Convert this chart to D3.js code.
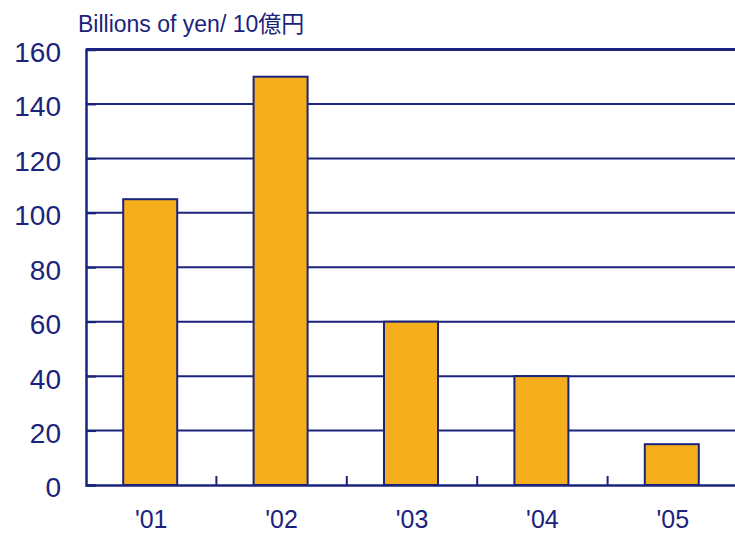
<!DOCTYPE html>
<html>
<head>
<meta charset="utf-8">
<script src="https://cdn.jsdelivr.net/npm/d3@7"></script>
<style>
  html, body { margin: 0; padding: 0; background: #fff; overflow: hidden; }
  svg { display: block; font-family: "Liberation Sans", Arial, "Noto Sans CJK JP", sans-serif; }
</style>
</head>
<body>
<svg id="chart" width="735" height="535"></svg>
<script>
// Fiscal years and amounts (billions of yen)
const years = ["'01", "'02", "'03", "'04", "'05"];
const amounts = [105, 150, 60, 40, 15];
const yTicks = [0, 20, 40, 60, 80, 100, 120, 140, 160];
const unitLabel = "Billions of yen/ 10億円";

const navy = "#1b237c";
const gold = "#f7ae1c";

const svg = d3.select("#chart");
const margin = { left: 86, top: 49.5, bottom: 50 };
const plotW = 652;
const plotH = 535 - margin.top - margin.bottom;

const x = d3.scaleBand().domain(years).range([margin.left, margin.left + plotW]).paddingInner(0).paddingOuter(0);
const y = d3.scaleLinear().domain([0, 160]).range([margin.top + plotH, margin.top]);

// horizontal grid lines (the top one doubles as the plot's upper border)
svg.append("g").selectAll("line").data(yTicks.slice(1)).join("line")
  .attr("x1", margin.left).attr("x2", margin.left + plotW)
  .attr("y1", d => y(d)).attr("y2", d => y(d))
  .attr("stroke", navy).attr("stroke-width", d => d === 160 ? 3 : 2);

// bars
const barW = 54;
svg.append("g").selectAll("rect").data(amounts).join("rect")
  .attr("x", (d, i) => x(years[i]) + x.bandwidth() / 2 - barW / 2 - 1)
  .attr("y", d => y(d))
  .attr("width", barW)
  .attr("height", d => y(0) - y(d))
  .attr("fill", gold).attr("stroke", navy).attr("stroke-width", 2);

// y axis
const yAxis = svg.append("g").attr("transform", `translate(${margin.left},0)`)
  .call(d3.axisLeft(y).tickValues(yTicks).tickSize(-10).tickPadding(25).tickFormat(d3.format("d")));
yAxis.select(".domain").attr("stroke", navy).attr("stroke-width", 2.5);
yAxis.selectAll(".tick line").attr("stroke", navy).attr("stroke-width", 2);
yAxis.selectAll(".tick text").attr("fill", navy).attr("font-size", 28).attr("font-family", null)
  .attr("y", 3);

// x axis
const xAxis = svg.append("g").attr("transform", `translate(0,${y(0)})`)
  .call(d3.axisBottom(x).tickSize(0).tickPadding(0));
xAxis.select(".domain").attr("stroke", navy).attr("stroke-width", 2.5);
xAxis.selectAll(".tick text").attr("fill", navy).attr("font-size", 25).attr("font-family", null)
  .attr("y", 43).attr("dy", null);

// category separator ticks on the baseline
svg.append("g").selectAll("line").data(years.slice(1)).join("line")
  .attr("x1", d => x(d)).attr("x2", d => x(d))
  .attr("y1", y(0)).attr("y2", y(0) - 9)
  .attr("stroke", navy).attr("stroke-width", 2);

// unit label
svg.append("text").attr("x", 78).attr("y", 32)
  .attr("fill", navy).attr("font-size", 23).text(unitLabel);
</script>
</body>
</html>
